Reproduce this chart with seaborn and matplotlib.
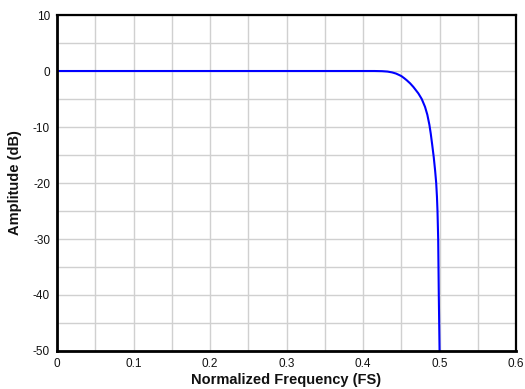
import numpy as np
import pandas as pd
import seaborn as sns
from matplotlib import pyplot as plt

# values
freq = [0.0, 0.40, 0.415, 0.425, 0.432, 0.438, 0.443, 0.447, 0.450, 0.4535,
        0.4571, 0.4615, 0.4658, 0.4723, 0.4767, 0.4810, 0.4840, 0.4867, 0.4885,
        0.4904, 0.4924, 0.4942, 0.4956, 0.4966, 0.4973, 0.4982, 0.4990, 0.5000]
amp_db = [0.0, 0.0, 0.0, -0.03, -0.1, -0.25, -0.45, -0.7, -0.9, -1.25,
          -1.65, -2.2, -2.85, -4.0, -5.0, -6.4, -7.8, -9.6, -11.2,
          -13.2, -15.4, -17.8, -20.0, -22.5, -25.0, -30.0, -40.0, -50.0]

x_ticks = [0, 0.1, 0.2, 0.3, 0.4, 0.5, 0.6]
x_tick_labels = ['0', '0.1', '0.2', '0.3', '0.4', '0.5', '0.6']
y_ticks = [10, 0, -10, -20, -30, -40, -50]

sns.set_theme(style='whitegrid')
plt.rcParams['font.family'] = ['Liberation Sans', 'DejaVu Sans']
plt.rcParams['axes.unicode_minus'] = False

df = pd.DataFrame({'freq': freq, 'amp': amp_db})

fig = plt.figure(figsize=(5.25, 3.89), dpi=100)
ax = fig.add_axes([0.1086, 0.0977, 0.8744, 0.8637])

sns.lineplot(data=df, x='freq', y='amp', ax=ax, color='#0000ff', linewidth=1.5,
             sort=False, estimator=None)

ax.set_xlim(0, 0.6)
ax.set_ylim(-50, 10)
ax.set_xticks(x_ticks)
ax.set_xticklabels(x_tick_labels)
ax.set_yticks(y_ticks)
ax.set_xticks(np.arange(0.05, 0.6, 0.1), minor=True)
ax.set_yticks(np.arange(-45, 10, 10), minor=True)
ax.grid(True, which='both', color='#d0d0d0', linewidth=1.0)
ax.tick_params(axis='both', which='both', length=0, labelsize=8.5, colors='#111111', pad=5)
ax.set_facecolor('white')

for side in ['left', 'bottom']:
    ax.spines[side].set_color('black')
    ax.spines[side].set_linewidth(2.0)
for side in ['top', 'right']:
    ax.spines[side].set_color('black')
    ax.spines[side].set_linewidth(1.6)

ax.set_xlabel('Normalized Frequency (FS)', fontsize=10.5, fontweight='bold', labelpad=2, color='#111111')
ax.set_ylabel('Amplitude (dB)', fontsize=10.5, fontweight='bold', labelpad=8, color='#111111')

fig.savefig('out.png', dpi=100)
